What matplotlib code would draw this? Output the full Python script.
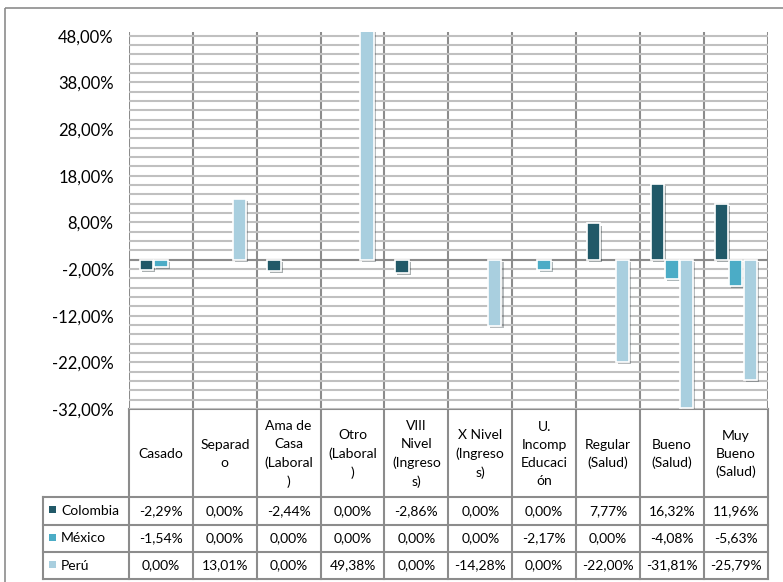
import numpy as np
import matplotlib
matplotlib.use("Agg")
from matplotlib import pyplot as plt
from matplotlib import patheffects as pe
from matplotlib.patches import Rectangle

# Data (percent)
categories = ["Casado", "Separad\no", "Ama de\nCasa\n(Laboral\n)", "Otro\n(Laboral\n)",
              "VIII\nNivel\n(Ingreso\ns)", "X Nivel\n(Ingreso\ns)", "U.\nIncomp\nEducaci\nón",
              "Regular\n(Salud)", "Bueno\n(Salud)", "Muy\nBueno\n(Salud)"]
series_names = ["Colombia", "México", "Perú"]
colombia = [-2.29, 0.00, -2.44, 0.00, -2.86, 0.00, 0.00, 7.77, 16.32, 11.96]
mexico = [-1.54, 0.00, 0.00, 0.00, 0.00, 0.00, -2.17, 0.00, -4.08, -5.63]
peru = [0.00, 13.01, 0.00, 49.38, 0.00, -14.28, 0.00, -22.00, -31.81, -25.79]
y_ticks = [-32, -22, -12, -2, 8, 18, 28, 38, 48]

colors = ["#215968", "#4BACC6", "#A9CFDF"]
grid_dark = "#8C8C8C"
grid_light = "#C0C0C0"

plt.rcParams['font.family'] = ['Lato', 'DejaVu Sans']

W, H = 783, 582
fig = plt.figure(figsize=(W / 100, H / 100), dpi=100)

# pixel layout of the plot area
L, R, T, B = 129, 767.7, 31.5, 409
ax = fig.add_axes([L / W, 1 - B / H, (R - L) / W, (B - T) / H])

n = len(categories)
x = np.arange(n)
bw = 0.21
offs = [-0.227, 0.0, 0.227]
shadow = [pe.SimplePatchShadow(offset=(1.5, -1.5), alpha=0.35), pe.Normal()]
for vals, off, col in zip([colombia, mexico, peru], offs, colors):
    bars = ax.bar(x + off, vals, width=bw, color=col, edgecolor="white",
                  linewidth=1.2, zorder=3)
    for b, v in zip(bars, vals):
        if v == 0:
            b.set_visible(False)
        else:
            b.set_path_effects(shadow)

ax.set_xlim(-0.5, n - 0.5)
ax.set_ylim(-32, 48.9)
ax.set_yticks(y_ticks)
ax.set_yticklabels([f"{t:.2f}%".replace(".", ",") for t in y_ticks], fontsize=12)
ax.set_yticks(np.arange(-32, 49, 2), minor=True)
ax.set_xticks([])
ax.tick_params(axis="y", which="both", length=0, pad=11, labelcolor="#000000")
ax.grid(True, axis="y", which="both", color=grid_light, linewidth=1.5, zorder=0)
for i in range(n + 1):
    ax.axvline(i - 0.5, color=grid_dark, linewidth=1.5, zorder=1)
ax.axhline(0, color=grid_dark, linewidth=1.5, zorder=2)
for s in ax.spines.values():
    s.set_visible(False)

# overlay in pixel coordinates for the data table and chart frame
ov = fig.add_axes([0, 0, 1, 1], zorder=-1)
ov.set_xlim(0, W)
ov.set_ylim(H, 0)
ov.axis("off")
ov.add_patch(Rectangle((5, 8), 800, 600, fill=False, edgecolor=grid_dark, linewidth=1.2))

cw = (R - L) / n
row_tops = [497, 524.5, 552, 579]
leg_left = 43
lc = dict(color=grid_dark, linewidth=1.5)
ov.plot([L, R], [B, B], **lc)
for yy in row_tops:
    ov.plot([leg_left, R], [yy, yy], **lc)
for i in range(n + 1):
    ov.plot([L + i * cw, L + i * cw], [B, row_tops[-1]], **lc)
ov.plot([leg_left, leg_left], [row_tops[0], row_tops[-1]], **lc)

for i, c in enumerate(categories):
    ov.text(L + (i + 0.5) * cw, (B + row_tops[0]) / 2 + 1, c, ha="center", va="center",
            fontsize=10, linespacing=1.6)

for r, (name, vals, col) in enumerate(zip(series_names, [colombia, mexico, peru], colors)):
    yc = (row_tops[r] + row_tops[r + 1]) / 2
    ov.add_patch(Rectangle((49, yc - 4.5), 7, 7, facecolor=col, edgecolor="none"))
    ov.text(61, yc, name, ha="left", va="center", fontsize=10)
    for i, v in enumerate(vals):
        ov.text(L + (i + 0.5) * cw, yc, f"{v:.2f}%".replace(".", ","), ha="center",
                va="center", fontsize=10)

fig.savefig("out.png", dpi=100)
